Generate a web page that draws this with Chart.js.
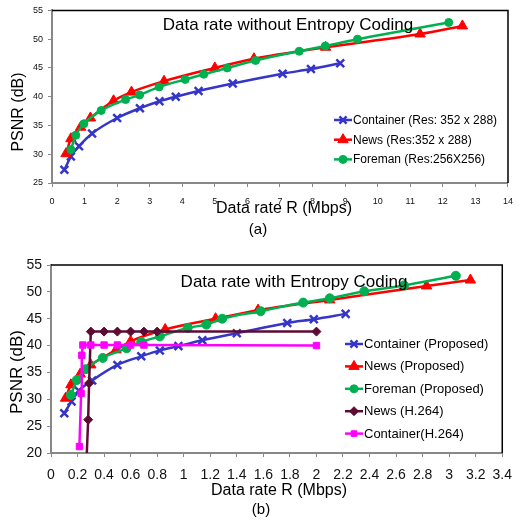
<!DOCTYPE html>
<html>
<head>
<meta charset="utf-8">
<script src="https://cdn.jsdelivr.net/npm/chart.js@4"></script>
<style>
    html, body { margin: 0; padding: 0; background: #fff; }
    body { width: 522px; height: 520px; position: relative; overflow: hidden; }
    .box { position: absolute; left: 0; width: 522px; }
    #boxA { top: 0; height: 245px; }
    #boxB { top: 245px; height: 275px; }
</style>
</head>
<body>
<div class="box" id="boxA"><canvas id="chartA" width="522" height="245"></canvas></div>
<div class="box" id="boxB"><canvas id="chartB" width="522" height="275"></canvas></div>
<script>
// (a) Data rate without Entropy Coding
const containerA_x = [0.38, 0.58, 0.83, 1.23, 2.0, 2.7, 3.3, 3.8, 4.5, 5.55, 7.08, 7.95, 8.85]
const containerA_y = [27.3, 29.6, 31.4, 33.6, 36.3, 38.0, 39.2, 40.0, 41.0, 42.3, 44.0, 44.8, 45.8]
const newsA_x = [0.43, 0.58, 0.88, 1.18, 1.89, 2.44, 3.44, 5.0, 6.2, 8.4, 11.3, 12.6]
const newsA_y = [30.1, 32.7, 34.7, 36.3, 39.3, 40.8, 42.7, 45.0, 46.6, 48.6, 50.9, 52.3]
const foremanA_x = [0.58, 0.73, 0.98, 1.51, 2.26, 2.69, 3.29, 4.09, 4.66, 5.38, 6.25, 7.59, 8.39, 9.38, 12.18]
const foremanA_y = [30.8, 33.3, 35.3, 37.6, 39.5, 40.3, 41.7, 43.0, 43.9, 45.0, 46.3, 47.9, 48.8, 50.0, 52.9]

// (b) Data rate with Entropy Coding
const containerB_x = [0.10, 0.155, 0.21, 0.31, 0.50, 0.68, 0.82, 0.96, 1.14, 1.40, 1.78, 1.98, 2.22]
const containerB_y = [27.4, 29.6, 31.6, 33.5, 36.4, 38.0, 39.1, 39.9, 41.0, 42.3, 44.2, 44.9, 45.9]
const newsB_x = [0.11, 0.15, 0.22, 0.30, 0.49, 0.60, 0.86, 1.24, 1.56, 2.10, 2.83, 3.16]
const newsB_y = [30.2, 32.7, 34.7, 36.4, 39.2, 40.8, 43.0, 45.0, 46.6, 48.5, 51.1, 52.2]
const foremanB_x = [0.15, 0.195, 0.26, 0.39, 0.57, 0.68, 0.82, 1.03, 1.17, 1.29, 1.58, 1.90, 2.10, 2.36, 2.66, 3.05]
const foremanB_y = [30.8, 33.6, 35.6, 37.7, 39.5, 40.7, 41.7, 43.3, 43.9, 45.0, 46.4, 48.0, 48.8, 50.1, 51.2, 53.0]
const newsH264_x = [0.26, 0.28, 0.287, 0.30, 0.40, 0.50, 0.60, 0.70, 0.80, 2.0]
const newsH264_y = [14, 26.2, 33.0, 42.6, 42.6, 42.6, 42.6, 42.6, 42.6, 42.6]
const containerH264_x = [0.214, 0.227, 0.232, 0.24, 0.30, 0.40, 0.50, 0.60, 0.70, 2.0]
const containerH264_y = [21.2, 31.1, 38.2, 40.1, 40.1, 40.1, 40.1, 40.1, 40.1, 40.0]

const labelsA = ['Container (Res: 352 x 288)', 'News (Res:352 x 288)', 'Foreman (Res:256X256)']
const labelsB = ['Container (Proposed)', 'News (Proposed)', 'Foreman (Proposed)', 'News (H.264)', 'Container(H.264)']

const BLUE = '#3535c8', RED = '#ff0000', GREEN = '#00b050', MAROON = '#5e0b33', MAGENTA = '#ff00ff'
const FONT = "'Liberation Sans', Arial, sans-serif"

const pts = (xs, ys) => xs.map((x, i) => ({ x: x, y: ys[i] }))

function series(label, xs, ys, color, style, radius, smooth) {
    return {
        label: label,
        data: pts(xs, ys),
        borderColor: color,
        backgroundColor: color,
        borderWidth: 2.5,
        showLine: true,
        pointStyle: style,
        pointRadius: (c) => (c.raw && c.raw.y < 20) ? 0 : radius,
        pointBorderWidth: style === 'crossRot' ? 2.5 : 1,
        cubicInterpolationMode: smooth ? 'monotone' : 'default',
        tension: 0
    }
}

// black frame on top/right edges of the plot area
const plotFrame = {
    id: 'plotFrame',
    beforeDatasetsDraw(chart) {
        const { ctx, chartArea: a } = chart
        ctx.save()
        ctx.strokeStyle = '#000'
        ctx.lineWidth = 1.5
        ctx.beginPath()
        ctx.moveTo(a.left, a.top)
        ctx.lineTo(a.right, a.top)
        ctx.lineTo(a.right, a.bottom)
        ctx.stroke()
        ctx.restore()
    }
}

// texts + legend drawn inside the plot
const overlay = {
    id: 'overlay',
    afterDatasetsDraw(chart, args, opts) {
        const ctx = chart.ctx
        ctx.save()
        ctx.fillStyle = '#000'
        ctx.textAlign = 'center'
        ctx.textBaseline = 'middle'
        ;(opts.texts || []).forEach((t) => {
            ctx.save()
            ctx.font = t.size + 'px ' + FONT
            ctx.translate(t.x, t.y)
            if (t.rotate) ctx.rotate(-Math.PI / 2)
            ctx.fillText(t.text, 0, 0)
            ctx.restore()
        })
        const lg = opts.legend
        if (lg) {
            ctx.font = lg.size + 'px ' + FONT
            ctx.textAlign = 'left'
            chart.data.datasets.forEach((ds, i) => {
                const y = lg.y + i * lg.rowH
                ctx.strokeStyle = ds.borderColor
                ctx.fillStyle = ds.borderColor
                ctx.lineWidth = 2.5
                ctx.beginPath()
                ctx.moveTo(lg.x, y)
                ctx.lineTo(lg.x + lg.len, y)
                ctx.stroke()
                const bw = ds.pointStyle === 'crossRot' ? 2.5 : 1
                ctx.lineWidth = bw
                Chart.helpers.drawPoint(ctx, { pointStyle: ds.pointStyle, radius: lg.radius[i], rotation: 0, borderWidth: bw }, lg.x + lg.len / 2, y)
                ctx.fillStyle = '#000'
                ctx.fillText(ds.label, lg.x + lg.len + 1, y + 0.5)
            })
        }
        ctx.restore()
    }
}

function axes(xmin, xmax, xstep, ymin, ymax, tickSize, yWidth, xHeight, xPad) {
    return {
        x: {
            type: 'linear', min: xmin, max: xmax,
            ticks: {
                stepSize: xstep, autoSkip: false, maxRotation: 0, padding: xPad,
                color: '#111', font: { size: tickSize, family: FONT },
                callback: (v) => String(+v.toFixed(1))
            },
            grid: { drawOnChartArea: false, tickLength: 4, color: '#888' },
            border: { color: '#888', width: 2 },
            afterFit: (s) => { s.height = xHeight }
        },
        y: {
            type: 'linear', min: ymin, max: ymax,
            ticks: { stepSize: 5, padding: 5, color: '#111', font: { size: tickSize, family: FONT } },
            grid: { drawOnChartArea: false, tickLength: 4, color: '#888' },
            border: { color: '#888', width: 2 },
            afterFit: (s) => { s.width = yWidth }
        }
    }
}

const dsA = [
    series(labelsA[0], containerA_x, containerA_y, BLUE, 'crossRot', 5.5, true),
    series(labelsA[1], newsA_x, newsA_y, RED, 'triangle', 6, true),
    series(labelsA[2], foremanA_x, foremanA_y, GREEN, 'circle', 4, true)
]
dsA.forEach((d, i) => { d.order = dsA.length - i })

new Chart(document.getElementById('chartA'), {
    type: 'scatter',
    data: { datasets: dsA },
    options: {
        responsive: false,
        animation: false,
        layout: { padding: { top: 8, right: 7, left: 0, bottom: 0 } },
        scales: axes(0, 14, 1, 25, 55, 9, 52, 62, 9),
        plugins: {
            legend: { display: false },
            tooltip: { enabled: false },
            overlay: {
                texts: [
                    { text: 'Data rate without Entropy Coding', x: 288, y: 25, size: 17 },
                    { text: 'PSNR (dB)', x: 19, y: 112, size: 16, rotate: true },
                    { text: 'Data rate R (Mbps)', x: 284, y: 209, size: 16 },
                    { text: '(a)', x: 258, y: 230, size: 15 }
                ],
                legend: { x: 334, y: 120, rowH: 19.7, len: 18, size: 12, radius: [5, 6, 4] }
            }
        }
    },
    plugins: [plotFrame, overlay]
})

const dsB = [
    series(labelsB[0], containerB_x, containerB_y, BLUE, 'crossRot', 5.5, true),
    series(labelsB[1], newsB_x, newsB_y, RED, 'triangle', 6, true),
    series(labelsB[2], foremanB_x, foremanB_y, GREEN, 'circle', 4.5, true),
    series(labelsB[3], newsH264_x, newsH264_y, MAROON, 'rectRot', 4.5, false),
    series(labelsB[4], containerH264_x, containerH264_y, MAGENTA, 'rect', 4.5, false)
]
dsB.forEach((d, i) => { d.order = dsB.length - i })

new Chart(document.getElementById('chartB'), {
    type: 'scatter',
    data: { datasets: dsB },
    options: {
        responsive: false,
        animation: false,
        layout: { padding: { top: 20, right: 8, left: 0, bottom: 0 } },
        scales: axes(0, 3.4, 0.2, 20, 55, 14, 51, 67, 10),
        plugins: {
            legend: { display: false },
            tooltip: { enabled: false },
            overlay: {
                texts: [
                    { text: 'Data rate with Entropy Coding', x: 294, y: 37, size: 17 },
                    { text: 'PSNR (dB)', x: 17.5, y: 127, size: 17, rotate: true },
                    { text: 'Data rate R (Mbps)', x: 279, y: 246, size: 16 },
                    { text: '(b)', x: 261, y: 265, size: 15 }
                ],
                legend: { x: 345, y: 99, rowH: 22.4, len: 18, size: 13, radius: [5, 6, 4, 4.5, 4] }
            }
        }
    },
    plugins: [plotFrame, overlay]
})
</script>
</body>
</html>
